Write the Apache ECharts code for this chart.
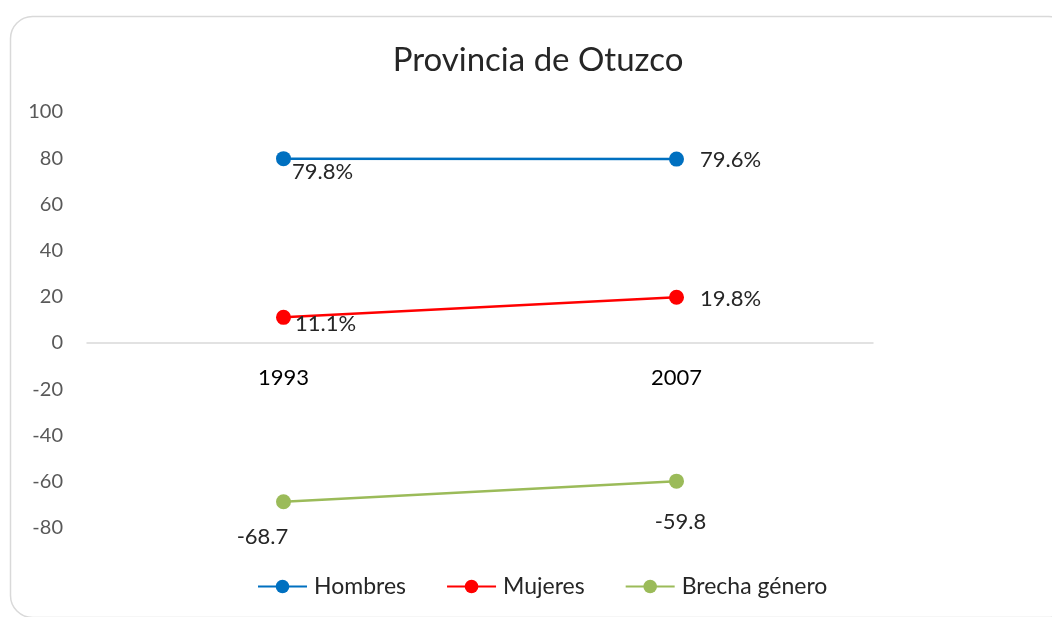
<!DOCTYPE html>
<html><head><meta charset="utf-8">
<script src="https://cdn.jsdelivr.net/npm/echarts@6/dist/echarts.min.js"></script>
<style>html,body{margin:0;padding:0;background:#fff}#c{width:1052px;height:617px}</style>
</head><body><div id="c"></div>
<script>
const categories = ['1993', '2007'];
const hombres = [79.8, 79.6];
const mujeres = [11.1, 19.8];
const brecha = [-68.7, -59.8];
const yTicks = [-100, -80, -60, -40, -20, 0, 20, 40, 60, 80, 100];

const FONT = 'Lato, "Noto Sans", sans-serif';
const chart = echarts.init(document.getElementById('c'));
const lblStyle = {fontFamily: FONT, fontSize: 22, color: '#262626'};

function pct(p){ return p.value.toFixed(1) + '%'; }

chart.setOption({
  animation: false,
  graphic: [{
    type: 'rect', left: 8, top: 14,
    shape: {width: 1060, height: 601, r: 22},
    style: {fill: 'none', stroke: '#d9d9d9', lineWidth: 1.5},
    silent: true
  }],
  title: {
    text: 'Provincia de Otuzco',
    left: 533, top: 39, textAlign: 'center',
    textStyle: {fontFamily: FONT, fontSize: 33, fontWeight: 'normal', color: '#262626'}
  },
  legend: {
    top: 575, left: 257, padding: 0,
    itemWidth: 49, itemHeight: 17, itemGap: 40,
    textStyle: {fontFamily: FONT, fontSize: 23, color: '#262626', padding: [0, 0, 0, 2]},
    data: ['Hombres', 'Mujeres', 'Brecha género']
  },
  grid: {left: 87, right: 179, top: 112, height: 462},
  xAxis: {
    type: 'category', data: categories, boundaryGap: true,
    offset: -231,
    axisLine: {onZero: false, lineStyle: {color: '#d9d9d9', width: 1.5}},
    axisTick: {show: false},
    axisLabel: {fontFamily: FONT, fontSize: 22, color: '#000', margin: 24}
  },
  yAxis: {
    type: 'value', min: yTicks[0], max: yTicks[yTicks.length - 1], interval: 20,
    splitLine: {show: false}, axisLine: {show: false}, axisTick: {show: false},
    axisLabel: {
      fontFamily: FONT, fontSize: 20, color: '#595959', margin: 24,
      formatter: v => (v === yTicks[0] ? '' : String(v))
    }
  },
  series: [
    {
      name: 'Hombres', type: 'line', color: '#0070C0', symbol: 'circle', symbolSize: 15,
      lineStyle: {width: 2.5}, itemStyle: {color: '#0070C0'},
      label: {show: true, formatter: pct, ...lblStyle, position: 'right', distance: 16, offset: [0, 1]},
      emphasis: {disabled: true},
      data: [
        {value: hombres[0], label: {position: 'right', distance: 1, offset: [0, 13]}},
        {value: hombres[1]}
      ]
    },
    {
      name: 'Mujeres', type: 'line', color: '#FF0000', symbol: 'circle', symbolSize: 15,
      lineStyle: {width: 2.5}, itemStyle: {color: '#FF0000'},
      label: {show: true, formatter: pct, ...lblStyle, position: 'right', distance: 16, offset: [0, 2]},
      emphasis: {disabled: true},
      data: [
        {value: mujeres[0], label: {position: 'right', distance: 4, offset: [0, 7]}},
        {value: mujeres[1]}
      ]
    },
    {
      name: 'Brecha género', type: 'line', color: '#9BBB59', symbol: 'circle', symbolSize: 15,
      lineStyle: {width: 2.5}, itemStyle: {color: '#9BBB59'},
      label: {show: true, formatter: p => p.value.toFixed(1), ...lblStyle, position: 'bottom', distance: 20},
      emphasis: {disabled: true},
      data: [
        {value: brecha[0], label: {position: 'bottom', distance: 17, offset: [-21, 0]}},
        {value: brecha[1], label: {position: 'bottom', distance: 22, offset: [4, 0]}}
      ]
    }
  ]
});
</script></body></html>
